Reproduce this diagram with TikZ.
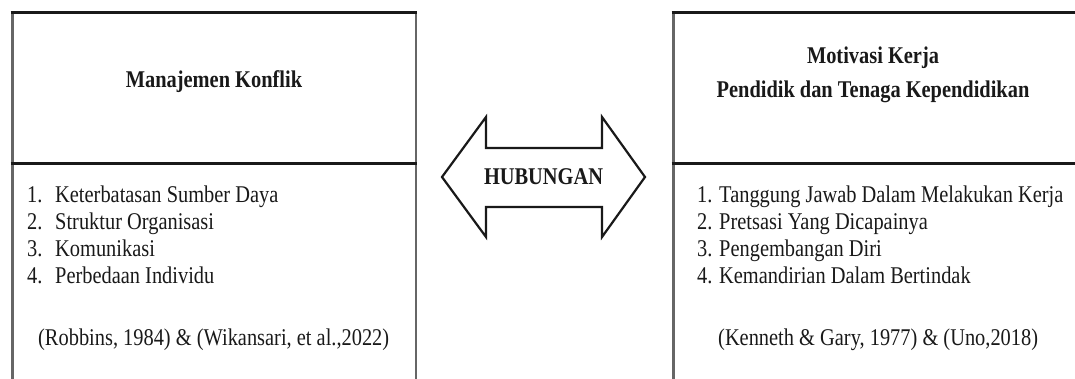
\documentclass[tikz,border=0pt]{standalone}
\usepackage{fontspec}
\setmainfont{Liberation Serif}[FakeStretch=0.85]
\begin{document}
\begin{tikzpicture}[x=1pt,y=-1pt,
  rule/.style={line width=3pt, draw=black!90},
  side/.style={line width=3pt, draw=black!60},
  txt/.style={inner sep=0pt, text=black!90, font=\fontsize{24}{28}\selectfont},
  title/.style={inner sep=0pt, text=black!90, font=\fontsize{24}{28}\selectfont\bfseries, anchor=base},
  item/.style={txt, anchor=base west},
  relarrow/.style={line width=2.2pt, draw=black!90, fill=white, line join=miter},
]
\useasboundingbox (0,0) rectangle (1075,378);
\clip (0,0) rectangle (1075,378);

% corner points of the two boxes
\coordinate (ltl) at (12,12);
\coordinate (ltr) at (416,12);
\coordinate (lml) at (12,163);
\coordinate (lmr) at (416,163);
\coordinate (lbl) at (12,395);
\coordinate (lbr) at (416,395);
\coordinate (rtl) at (673,12);
\coordinate (rtr) at (1090,12);
\coordinate (rml) at (673,163);
\coordinate (rmr) at (1090,163);
\coordinate (rbl) at (673,395);

% left box: Manajemen Konflik
\draw[side] (ltl) -- (lbl);
\draw[side, line width=2.2pt] (ltr) -- (lbr);
\draw[rule] ([xshift=-1.5pt]ltl) -- ([xshift=1.2pt]ltr);
\draw[rule] ([xshift=-1.5pt]lml) -- ([xshift=1.2pt]lmr);

% right box: Motivasi Kerja
\draw[side] (rtl) -- (rbl);
\draw[rule] ([xshift=-1.5pt]rtl) -- (rtr);
\draw[rule] ([xshift=-1.5pt]rml) -- (rmr);

% headings
\node[title] (lhead) at (214,87) {Manajemen Konflik};
\node[title] (rhead1) at (873,63) {Motivasi Kerja};
\node[title] (rhead2) at (873,97) {Pendidik dan Tenaga Kependidikan};

% left list
\node[item] (ln1) at (27,202) {1.};
\node[item] (li1) at (55,202) {Keterbatasan Sumber Daya};
\node[item] (ln2) at (27,229) {2.};
\node[item] (li2) at (55,229) {Struktur Organisasi};
\node[item] (ln3) at (27,256) {3.};
\node[item] (li3) at (55,256) {Komunikasi};
\node[item] (ln4) at (27,283) {4.};
\node[item] (li4) at (55,283) {Perbedaan Individu};
\node[item] (lsrc) at (38,345) {(Robbins, 1984) \& (Wikansari, et al.,2022)};

% right list
\node[item] (rn1) at (697,202) {1.};
\node[item] (ri1) at (719,202) {Tanggung Jawab Dalam Melakukan Kerja};
\node[item] (rn2) at (697,229) {2.};
\node[item] (ri2) at (719,229) {Pretsasi Yang Dicapainya};
\node[item] (rn3) at (697,256) {3.};
\node[item] (ri3) at (719,256) {Pengembangan Diri};
\node[item] (rn4) at (697,283) {4.};
\node[item] (ri4) at (719,283) {Kemandirian Dalam Bertindak};
\node[item] (rsrc) at (718,345) {(Kenneth \& Gary, 1977) \& (Uno,2018)};

% double-headed block arrow between the boxes
\draw[relarrow] (442,177) -- (486,117) -- (486,148) -- (602,148) -- (602,117)
  -- (645,177) -- (602,237) -- (602,207) -- (486,207) -- (486,237) -- cycle;
\node[title, anchor=center] (hub) at (543.5,177) {HUBUNGAN};
\end{tikzpicture}
\end{document}
